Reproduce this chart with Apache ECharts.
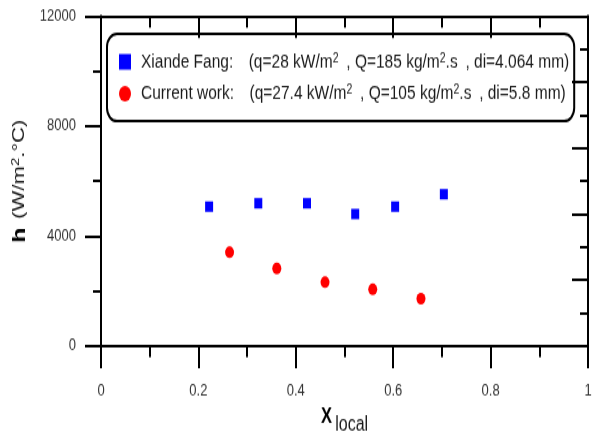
<!DOCTYPE html>
<html>
<head>
<meta charset="utf-8">
<script src="https://cdn.jsdelivr.net/npm/echarts@6/dist/echarts.min.js"></script>
<style>
  html, body { margin: 0; padding: 0; background: #fff; overflow: hidden; }
  #frame { width: 592px; height: 432px; overflow: hidden; }
  /* the figure is laid out at 592x332 and shown with a taller aspect */
  #chart { width: 592px; height: 332px; transform: scaleY(1.3012); transform-origin: 0 0; }
</style>
</head>
<body>
<div id="frame"><div id="chart"></div></div>
<script>
// Local heat transfer coefficient vs vapour quality
const xiandeX = [0.222, 0.323, 0.423, 0.522, 0.604, 0.704];
const xiandeH = [5070, 5190, 5190, 4800, 5070, 5520];
const currentX = [0.264, 0.361, 0.460, 0.558, 0.657];
const currentH = [3410, 2820, 2320, 2060, 1720];

const xTicks = { min: 0, max: 1, interval: 0.2 };
const yTicks = { min: 0, max: 12000, interval: 4000 };

const seriesNames = ['Xiande Fang', 'Current work'];
// en spaces (U+2002) give the wider gaps after the colon and before the commas
const SP = '\u2002';
const legendLabels = {
  'Xiande Fang': `Xiande Fang:${SP}${SP}(q=28 kW/m{sup|2}${SP}, Q=185 kg/m{sup|2}.s${SP}, di=4.064 mm)`,
  'Current work': `Current work:${SP}${SP}(q=27.4 kW/m{sup|2}${SP}, Q=105 kg/m{sup|2}.s${SP}, di=5.8 mm)`
};

const FONT = "'Liberation Sans', Arial, sans-serif";
const INK = '#1a1a1a';

const toPairs = (xs, ys) => xs.map((x, i) => [x, ys[i]]);

const axisLine = { show: true, onZero: false, lineStyle: { color: '#000', width: 2 } };
const tickLine = { color: '#000', width: 2 };

const chart = echarts.init(document.getElementById('chart'), null, { renderer: 'canvas' });
chart.setOption({
  animation: false,
  backgroundColor: '#fff',
  grid: { left: 101, right: 4, top: 12.3, bottom: 66.1, containLabel: false, outerBoundsMode: 'none' },
  legend: {
    orient: 'vertical',
    left: 107,
    top: 26,
    padding: [13.5, 5, 13, 12],
    itemGap: 8.6,
    itemWidth: 12,
    itemHeight: 12,
    borderColor: '#000',
    borderWidth: 2,
    borderRadius: 10,
    itemStyle: { opacity: 1 },
    data: [
      { name: seriesNames[0], icon: 'rect' },
      { name: seriesNames[1], icon: 'circle' }
    ],
    formatter: name => legendLabels[name],
    textStyle: {
      fontFamily: FONT,
      fontSize: 15.5,
      lineHeight: 16,
      color: INK,
      padding: [0, 0, 0, 5],
      rich: {
        sup: { fontFamily: FONT, fontSize: 10.5, color: INK, verticalAlign: 'top', lineHeight: 16 }
      }
    }
  },
  xAxis: [
    {
      type: 'value', position: 'bottom',
      min: xTicks.min, max: xTicks.max, interval: xTicks.interval,
      axisLine,
      axisTick: { show: true, inside: false, length: 17, lineStyle: tickLine },
      minorTick: { show: true, splitNumber: 2, length: 8.5, lineStyle: tickLine },
      splitLine: { show: false },
      axisLabel: {
        margin: 28, fontFamily: FONT, fontSize: 13, color: '#333',
        formatter: v => String(Math.round(v * 10) / 10)
      },
      name: '{b|X} {sub|local}',
      nameLocation: 'middle',
      nameGap: 36,
      nameTextStyle: {
        rich: {
          b: { fontFamily: FONT, fontWeight: 'bold', fontSize: 16.5, color: '#000' },
          sub: { fontFamily: FONT, fontSize: 16, color: INK, padding: [12, 0, 0, 0] }
        }
      }
    },
    {
      type: 'value', position: 'top',
      min: xTicks.min, max: xTicks.max, interval: xTicks.interval,
      axisLine,
      axisTick: { show: true, inside: true, length: 17, lineStyle: tickLine },
      minorTick: { show: true, splitNumber: 2, length: 9, lineStyle: tickLine },
      splitLine: { show: false },
      axisLabel: { show: false }
    }
  ],
  yAxis: [
    {
      type: 'value', position: 'left',
      min: yTicks.min, max: yTicks.max, interval: yTicks.interval,
      axisLine,
      axisTick: { show: true, inside: false, length: 16, lineStyle: tickLine },
      minorTick: { show: true, splitNumber: 2, length: 8, lineStyle: tickLine },
      splitLine: { show: false },
      axisLabel: { margin: 25, fontFamily: FONT, fontSize: 13, color: '#333', formatter: v => String(v) },
      name: '{b|h}  {n|(W/m}{sup|2}{n|.\u00B0C)}',
      nameLocation: 'middle',
      nameGap: 44,
      nameRotate: 90,
      nameTextStyle: {
        rich: {
          b: { fontFamily: FONT, fontWeight: 'bold', fontSize: 19, color: '#000' },
          n: { fontFamily: FONT, fontSize: 17, color: INK },
          sup: { fontFamily: FONT, fontSize: 11.5, color: INK, padding: [0, 0, 7, 0] }
        }
      }
    },
    {
      type: 'value', position: 'right',
      min: 0, max: 10, interval: 2,
      axisLine,
      axisTick: { show: true, inside: true, length: 16, lineStyle: tickLine },
      minorTick: { show: true, splitNumber: 2, length: 8, lineStyle: tickLine },
      splitLine: { show: false },
      axisLabel: { show: false }
    }
  ],
  series: [
    {
      name: seriesNames[0], type: 'scatter',
      xAxisIndex: 0, yAxisIndex: 0,
      symbol: 'rect', symbolSize: 8,
      itemStyle: { color: '#0000ff', opacity: 1 },
      data: toPairs(xiandeX, xiandeH)
    },
    {
      name: seriesNames[1], type: 'scatter',
      xAxisIndex: 0, yAxisIndex: 0,
      symbol: 'circle', symbolSize: 9,
      itemStyle: { color: '#ff0000', opacity: 1 },
      data: toPairs(currentX, currentH)
    }
  ]
});
</script>
</body>
</html>
